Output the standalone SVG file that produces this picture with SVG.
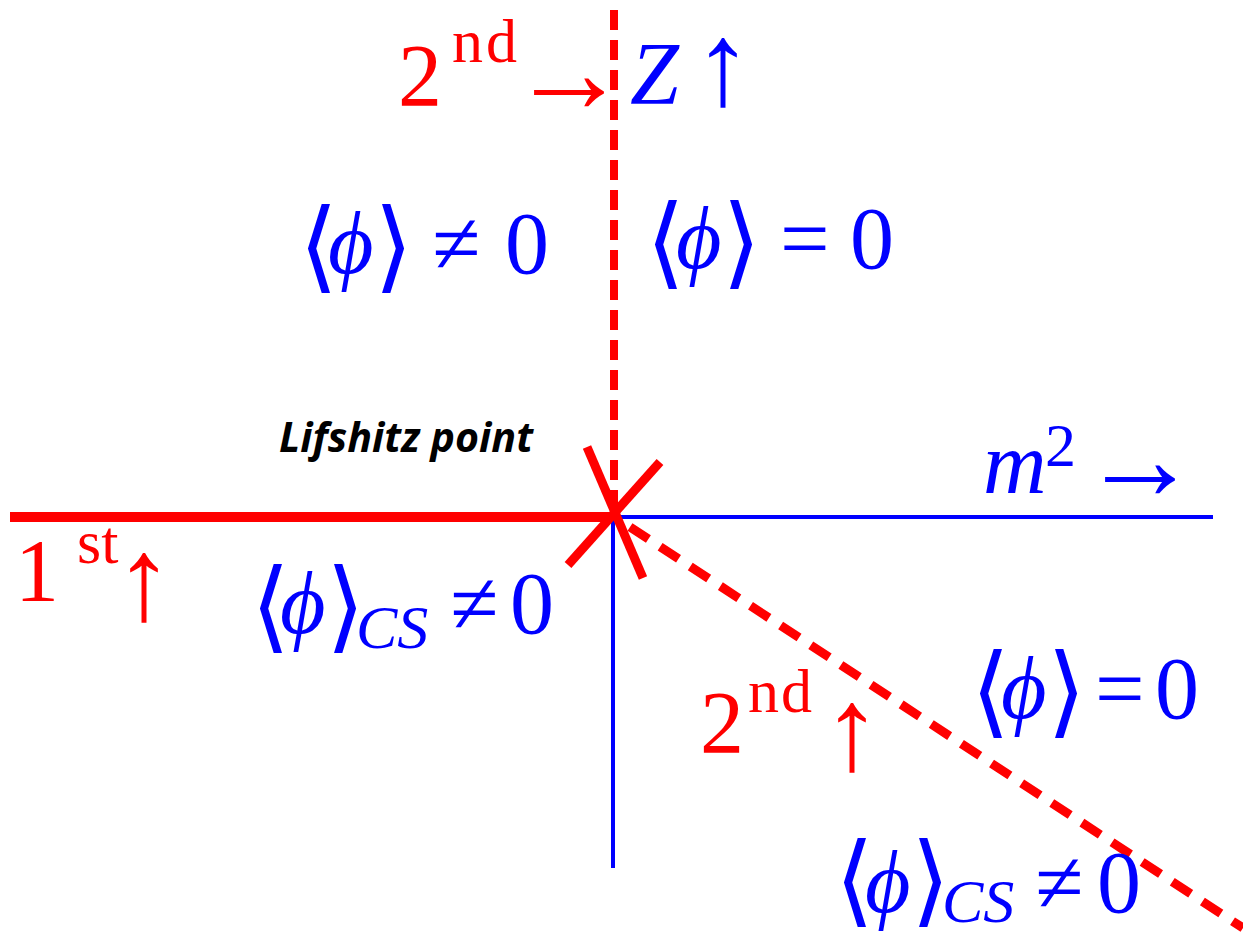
<svg xmlns="http://www.w3.org/2000/svg" width="1243" height="934" viewBox="0 0 1243 934">
<style>
.m{font-family:"Liberation Serif","DejaVu Serif",serif;font-size:88px}
.b{fill:#0000ff}
.r{fill:#ff0000}
.i{font-style:italic}
.s{font-size:62px}
.a{font-size:118px}
.br{font-family:"DejaVu Serif","Liberation Serif",serif;font-size:100px}
.lbl{font-family:"Open Sans","Liberation Sans",sans-serif;font-size:41px;font-weight:bold;font-style:italic;fill:#000}
</style>
<rect width="1243" height="934" fill="#fff"/>
<g id="connectors" fill="none">
<path d="M10 517 H612" stroke="#ff0000" stroke-width="10"/>
<path d="M612 517 H1213" stroke="#0000ff" stroke-width="4"/>
<path d="M613 517 V868" stroke="#0000ff" stroke-width="4"/>
<path d="M614 10 V512" stroke="#ff0000" stroke-width="8" stroke-dasharray="20 10"/>
<path d="M630 527 L1243 928" stroke="#ff0000" stroke-width="9" stroke-dasharray="22 14"/>
<path d="M587 447 L643 578" stroke="#ff0000" stroke-width="9"/>
<path d="M660 462 L568 565" stroke="#ff0000" stroke-width="9"/>
</g>
<g id="label-2nd-top">
<text class="m r"><tspan x="398" y="105">2</tspan><tspan class="s" x="452" y="62" letter-spacing="3">nd</tspan><tspan class="a" x="569" y="112" text-anchor="middle">→</tspan></text>
</g>
<g id="label-Z">
<text class="m b"><tspan class="i" x="630" y="103">Z</tspan><tspan class="a" x="723" y="104" text-anchor="middle">↑</tspan></text>
</g>
<g id="region-upper-left">
<text class="m b"><tspan class="br" x="299" y="280">⟨</tspan><tspan class="i" x="328" y="273">ϕ</tspan><tspan class="br" x="374" y="280">⟩</tspan><tspan x="432" y="273">≠</tspan><tspan x="505" y="273">0</tspan></text>
</g>
<g id="region-upper-right">
<text class="m b"><tspan class="br" x="646" y="276">⟨</tspan><tspan class="i" x="676" y="268">ϕ</tspan><tspan class="br" x="722" y="276">⟩</tspan><tspan x="780" y="268">=</tspan><tspan x="850" y="268">0</tspan></text>
</g>
<g id="lifshitz-point">
<text class="lbl" x="279" y="452" textLength="254" lengthAdjust="spacingAndGlyphs">Lifshitz point</text>
</g>
<g id="label-m2">
<text class="m b"><tspan class="i" x="983" y="493">m</tspan><tspan class="s" x="1045" y="466">2</tspan><tspan class="a" x="1140" y="499" text-anchor="middle">→</tspan></text>
</g>
<g id="label-1st">
<text class="m r"><tspan x="15" y="600">1</tspan><tspan class="s" x="77" y="563">st</tspan><tspan class="a" x="144" y="619" text-anchor="middle" font-size="135">↑</tspan></text>
</g>
<g id="region-lower-left">
<text class="m b"><tspan class="br" x="251" y="640">⟨</tspan><tspan class="i" x="280" y="633">ϕ</tspan><tspan class="br" x="326" y="640">⟩</tspan><tspan class="i s" x="356" y="648">CS</tspan><tspan x="450" y="633">≠</tspan><tspan x="510" y="633">0</tspan></text>
</g>
<g id="label-2nd-lower">
<text class="m r"><tspan x="700" y="752">2</tspan><tspan class="s" x="748" y="712" letter-spacing="2">nd</tspan><tspan class="a" x="852" y="769" text-anchor="middle" font-size="135">↑</tspan></text>
</g>
<g id="region-lower-right">
<text class="m b"><tspan class="br" x="971" y="725">⟨</tspan><tspan class="i" x="1001" y="718">ϕ</tspan><tspan class="br" x="1047" y="725">⟩</tspan><tspan x="1095" y="718">=</tspan><tspan x="1155" y="718">0</tspan></text>
</g>
<g id="region-bottom">
<text class="m b"><tspan class="br" x="835" y="914">⟨</tspan><tspan class="i" x="865" y="912">ϕ</tspan><tspan class="br" x="911" y="914">⟩</tspan><tspan class="i s" x="942" y="922">CS</tspan><tspan x="1035" y="912">≠</tspan><tspan x="1097" y="912">0</tspan></text>
</g>
</svg>
